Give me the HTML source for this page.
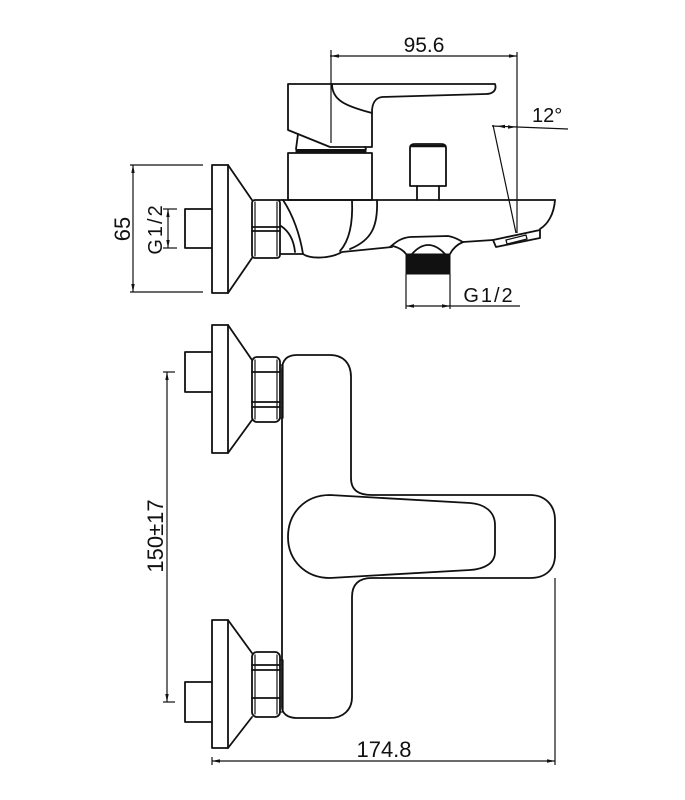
<!DOCTYPE html>
<html><head><meta charset="utf-8"><style>
html,body{margin:0;padding:0;background:#fff;}
svg{display:block;}
text{font-family:"Liberation Sans",sans-serif;fill:#111;}
</style></head><body>
<svg width="685" height="800" viewBox="0 0 685 800" xmlns="http://www.w3.org/2000/svg">
<g fill="none" stroke="#111" stroke-width="1.8" stroke-linejoin="round" stroke-linecap="round">
<!-- ===== SIDE VIEW ===== -->
<!-- wall plate -->
<rect x="212" y="165" width="16" height="128"/>
<line x1="228" y1="165" x2="252" y2="200"/>
<line x1="228" y1="293" x2="252" y2="258"/>
<!-- nipple -->
<path d="M212,209 L185,209 L185,248 L212,248"/>
<!-- hex nut -->
<rect x="252" y="200" width="28" height="58" rx="3"/>
<line x1="255" y1="202" x2="255" y2="256" stroke-width="1.2"/>
<line x1="277" y1="202" x2="277" y2="256" stroke-width="1.2"/>
<line x1="252" y1="227" x2="280" y2="227"/>
<line x1="252" y1="231" x2="280" y2="231"/>
<!-- cylinder & band -->
<rect x="288" y="153" width="84" height="47"/>
<rect x="296" y="149.5" width="70" height="2.5" fill="#111" stroke-width="1"/>
<line x1="298" y1="134" x2="296" y2="149"/>
<line x1="365" y1="147" x2="366" y2="149"/>
<!-- lever -->
<path d="M288,84 L495,84 C497,90 493,94 486,94 L382,97 C375,98 372,104 372,112 L372,147 L330,147 L288,130 Z"/>
<path d="M332,84 C332,100 345,106 372,113"/>
<!-- diverter knob -->
<path d="M410,186 L410,148 C410,145 412,144 415,144 L441,144 C444,144 446,145 446,148 L446,186 Z"/>
<line x1="411" y1="146" x2="445" y2="146" stroke-width="2.5"/>
<path d="M417,186 L417,200 M439,186 L439,200"/>
<!-- body -->
<line x1="278" y1="200" x2="555" y2="200"/>
<path d="M555,200 C554,214 548,224 540,229"/>
<path d="M283,200 C293,215 300,235 303,254"/>
<path d="M281,226 C290,232 294,242 295,252"/>
<path d="M352,200 C353,222 350,240 340,251"/>
<path d="M377,200 C378,226 372,240 350,249"/>
<path d="M280,254 L303,254 C310,259 330,259 342,252 L392,247"/>
<!-- outlet bulge -->
<path d="M390,247 C395,243 400,238 410,237 L448,236 C455,237 459,240 463,242 L493,240"/>
<path d="M393,246 C400,248 404,251 406,254"/>
<path d="M463,242 C456,245 452,250 450,254"/>
<path d="M412,254 Q428,236 445,254"/>
<rect x="406" y="254" width="44" height="20" fill="#111" stroke-width="1"/>
<!-- aerator -->
<path d="M493,240 L540,230 L540,238 L496,247 Z"/>
<path d="M506,240 L526,235 L527,239 L507,244 Z" stroke-width="1.3"/>
<!-- ===== FRONT VIEW ===== -->
<!-- upper plate -->
<rect x="212" y="325" width="16" height="128"/>
<line x1="228" y1="325" x2="252" y2="360"/>
<line x1="228" y1="453" x2="252" y2="420"/>
<path d="M212,352 L185,352 L185,392 L212,392"/>
<rect x="252" y="357" width="28" height="65" rx="5"/>
<line x1="255" y1="360" x2="255" y2="419" stroke-width="1.2"/>
<line x1="277" y1="360" x2="277" y2="419" stroke-width="1.2"/>
<line x1="252" y1="372" x2="280" y2="372"/>
<line x1="252" y1="402" x2="280" y2="402"/>
<line x1="252" y1="407" x2="280" y2="407"/>
<rect x="280" y="365" width="3" height="53" stroke-width="1.2"/>
<!-- lower plate -->
<rect x="212" y="620" width="16" height="128"/>
<line x1="228" y1="620" x2="252" y2="653"/>
<line x1="228" y1="748" x2="252" y2="717"/>
<path d="M212,682 L185,682 L185,722 L212,722"/>
<rect x="252" y="652" width="28" height="65" rx="5"/>
<line x1="255" y1="655" x2="255" y2="714" stroke-width="1.2"/>
<line x1="277" y1="655" x2="277" y2="714" stroke-width="1.2"/>
<line x1="252" y1="665" x2="280" y2="665"/>
<line x1="252" y1="670" x2="280" y2="670"/>
<line x1="252" y1="698" x2="280" y2="698"/>
<rect x="280" y="660" width="3" height="52" stroke-width="1.2"/>
<!-- body -->
<path d="M282,707 L282,370 C282,360 287,355 297,355 L330,355 C343,355 351,363 351,377 L351,478 C351,490 358,495 372,495 L530,495 C545,495 555,505 555,520 L555,555 C555,570 545,578 530,578 L372,578 C358,578 352,585 352,597 L352,697 C352,710 343,718 330,718 L297,718 C287,718 282,713 282,707 Z"/>
<!-- lever oval -->
<path d="M330,495 L470,503 C485,504 495,512 495,525 L495,552 C495,563 485,569 470,570 L330,578 C305,578 288,560 288,537 C288,513 305,495 330,495 Z"/>
</g>
<!-- ===== DIMENSIONS ===== -->
<g fill="none" stroke="#111" stroke-width="1.2">
<!-- 95.6 -->
<line x1="330" y1="56" x2="517" y2="56"/>
<line x1="331" y1="50" x2="331" y2="143"/>
<line x1="517" y1="52" x2="517" y2="233"/>
<!-- 12 deg -->
<line x1="492" y1="126" x2="568" y2="129"/>
<line x1="493" y1="125" x2="516" y2="233"/>
<!-- 65 -->
<line x1="133" y1="165" x2="133" y2="292"/>
<line x1="130" y1="165" x2="203" y2="165"/>
<line x1="130" y1="292" x2="203" y2="292"/>
<!-- G1/2 left -->
<line x1="168" y1="209" x2="168" y2="248"/>
<line x1="163" y1="209" x2="177" y2="209"/>
<line x1="163" y1="248" x2="177" y2="248"/>
<!-- G1/2 bottom -->
<line x1="406" y1="274" x2="406" y2="309"/>
<line x1="450" y1="274" x2="450" y2="309"/>
<line x1="406" y1="306" x2="520" y2="306"/>
<!-- 150±17 -->
<line x1="167" y1="372" x2="167" y2="702"/>
<line x1="163" y1="372" x2="175" y2="372"/>
<line x1="163" y1="702" x2="175" y2="702"/>
<!-- 174.8 -->
<line x1="212" y1="761" x2="555" y2="761"/>
<line x1="555" y1="578" x2="555" y2="765"/>
<line x1="212" y1="757" x2="212" y2="765"/>
</g>
<!-- arrowheads -->
<g fill="#111" stroke="none">
<path d="M331,56 L339,54.3 L339,57.7 Z"/>
<path d="M517,56 L509,54.3 L509,57.7 Z"/>
<path d="M133,165 L131.3,173 L134.7,173 Z"/>
<path d="M133,292 L131.3,284 L134.7,284 Z"/>
<path d="M168,209 L166.3,217 L169.7,217 Z"/>
<path d="M168,248 L166.3,240 L169.7,240 Z"/>
<path d="M406,306 L414,304.3 L414,307.7 Z"/>
<path d="M450,306 L442,304.3 L442,307.7 Z"/>
<path d="M167,372 L165.3,380 L168.7,380 Z"/>
<path d="M167,702 L165.3,694 L168.7,694 Z"/>
<path d="M212,761 L220,759.3 L220,762.7 Z"/>
<path d="M555,761 L547,759.3 L547,762.7 Z"/>
<path d="M497,126.2 L505,124.8 L505,128.2 Z"/>
<path d="M516,127 L508,125.3 L508,128.7 Z"/>
</g>
<!-- labels -->
<text x="424" y="52" font-size="21" text-anchor="middle">95.6</text>
<text x="532" y="122" font-size="20">12°</text>
<text x="489" y="302" font-size="20" text-anchor="middle" letter-spacing="2">G1/2</text>
<text x="384" y="757" font-size="22" text-anchor="middle">174.8</text>
<text transform="translate(130,229) rotate(-90)" font-size="22" text-anchor="middle">65</text>
<text transform="translate(162,229) rotate(-90)" font-size="20" text-anchor="middle" letter-spacing="2">G1/2</text>
<text transform="translate(163,536) rotate(-90)" font-size="22" text-anchor="middle">150±17</text>
</svg>
</body></html>
